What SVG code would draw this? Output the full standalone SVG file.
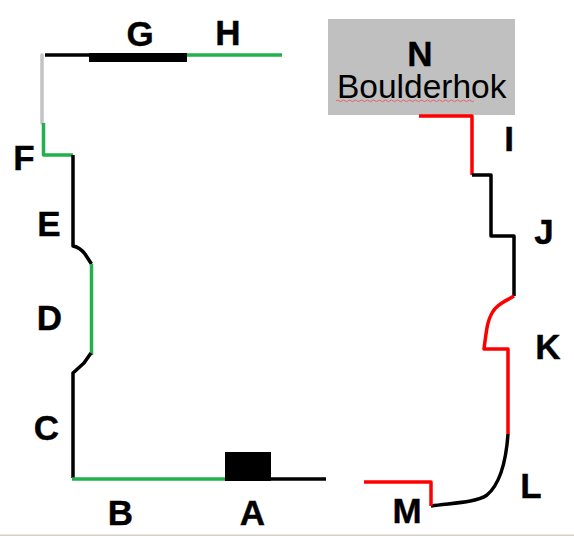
<svg xmlns="http://www.w3.org/2000/svg" width="574" height="536" viewBox="0 0 574 536">
<style>
text{font-family:"Liberation Sans",Arial,sans-serif;fill:#000}
.l{font-size:35px;font-weight:bold;text-anchor:middle;stroke:#000;stroke-width:.4px}
.p{fill:none;stroke-width:3.500px;stroke-linejoin:round}
.k{stroke:#000}.g{stroke:#22b14c}.r{stroke:#f00}.y{stroke:#c3c3c3}
</style>
<rect width="574" height="536" fill="#fff"/>
<rect x="0" y="534.500" width="574" height="1.500" fill="#d4d0c8"/>
<g id="node-N">
<rect x="328" y="19" width="187" height="96" fill="#c0c0c0"/>
<text class="l" x="420" y="66">N</text>
<text x="337" y="98" font-size="33.500">Boulderhok</text>
<path d="M336 100.800q1.500-1.600 3 0t3 0 3 0 3 0 3 0 3 0 3 0 3 0 3 0 3 0 3 0 3 0 3 0 3 0 3 0 3 0 3 0 3 0 3 0 3 0 3 0 3 0 3 0 3 0 3 0 3 0 3 0 3 0 3 0 3 0 3 0 3 0 3 0 3 0 3 0 3 0 3 0 3 0 3 0 3 0 3 0 3 0 3 0 3 0 3 0 3 0" fill="none" stroke="#e8606a" stroke-width="1"/>
</g>
<g id="connectors">
<path class="p y" d="M42 55V123" stroke-linecap="round"/>
<path class="p k" d="M45 55H89"/>
<rect x="89" y="53" width="98" height="9" fill="#000"/>
<path class="p g" d="M187 55H282"/>
<path class="p g" d="M43.500 123V155H73"/>
<path class="p k" d="M73 155V246C78 247 82 250 85 254L91.500 264"/>
<path class="p g" d="M91.500 264V355"/>
<path class="p k" d="M91 353L84 363L73 373V478"/>
<path class="p g" d="M72 479H226"/>
<rect x="225" y="452" width="46" height="29" fill="#000"/>
<path class="p k" d="M271 479H326"/>
<path class="p r" d="M419 116H472V175"/>
<path class="p k" d="M472 175H491V236H514V296"/>
<path class="p r" d="M514 296C504 302 496 305 492 313C488 320 487 325 484 349H508V434"/>
<path class="p k" d="M508 434C506 462 500 484 487 495C476 503 450 503 431 506"/>
<path class="p r" d="M431 506V482H364"/>
</g>
<g id="label-A"><text class="l" x="252.500" y="525">A</text></g>
<g id="label-B"><text class="l" x="120.500" y="525">B</text></g>
<g id="label-C"><text class="l" x="46.500" y="440">C</text></g>
<g id="label-D"><text class="l" x="49.500" y="330">D</text></g>
<g id="label-E"><text class="l" x="49" y="236">E</text></g>
<g id="label-F"><text class="l" x="24" y="170">F</text></g>
<g id="label-G"><text class="l" x="140" y="46">G</text></g>
<g id="label-H"><text class="l" x="228" y="45">H</text></g>
<g id="label-I"><text class="l" x="509" y="151">I</text></g>
<g id="label-J"><text class="l" x="544" y="244">J</text></g>
<g id="label-K"><text class="l" x="548" y="359">K</text></g>
<g id="label-L"><text class="l" x="531" y="498">L</text></g>
<g id="label-M"><text class="l" x="407" y="523">M</text></g>
</svg>
